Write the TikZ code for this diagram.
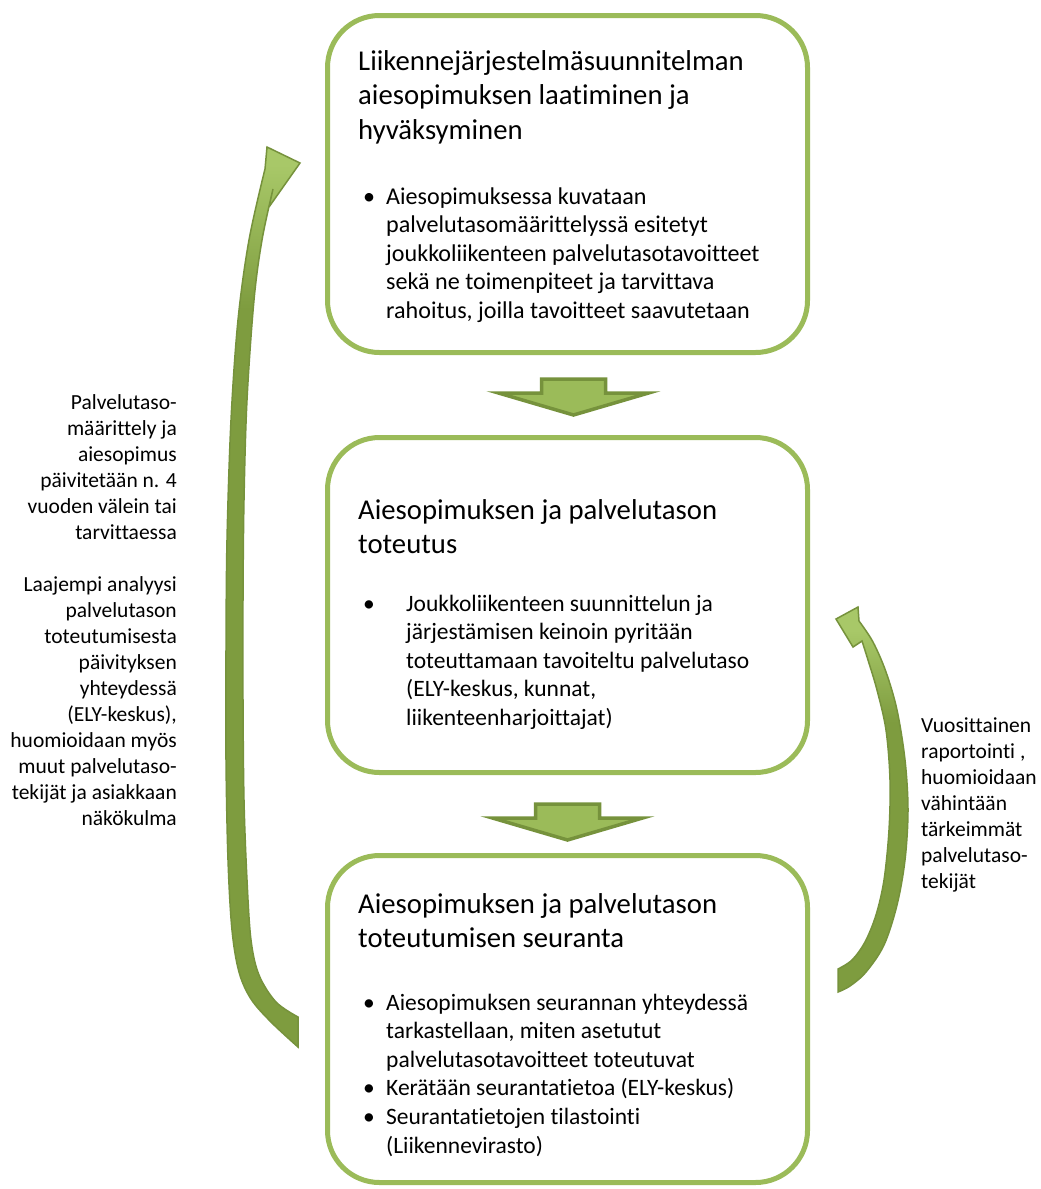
\documentclass[tikz,border=0pt]{standalone}
\usepackage{fontspec}
\setmainfont{Carlito}[Ligatures=NoCommon]
\usetikzlibrary{calc}
\definecolor{boxgreen}{HTML}{9BBB59}
\definecolor{darkgreen}{HTML}{76923C}
\definecolor{olivegreen}{HTML}{7E9C3F}
\definecolor{lightgreen}{HTML}{A8C868}
\pgfdeclareverticalshading{leftshade}{100bp}{color(0bp)=(olivegreen); color(25bp)=(olivegreen); color(66bp)=(olivegreen); color(74bp)=(lightgreen); color(100bp)=(lightgreen)}
\pgfdeclareverticalshading{rightshade}{100bp}{color(0bp)=(olivegreen); color(25bp)=(olivegreen); color(60bp)=(olivegreen); color(72bp)=(lightgreen); color(100bp)=(lightgreen)}
\newcommand\ttlfont{\fontsize{28.7}{34.5}\selectfont}
\newcommand\bdyfont{\fontsize{23.5}{28.6}\selectfont}
\newcommand\bdyfontb{\fontsize{24.1}{28.6}\selectfont}
\newcommand\sidefont{\fontsize{21.5}{26}\selectfont}
\newcommand\bul{\makebox[23pt][l]{•}}
\newcommand\bulw{\makebox[43pt][l]{•}}
\tikzset{
  box/.style={draw=boxgreen, line width=5pt, rounded corners=52pt, minimum width=480pt, inner sep=0pt},
  txt/.style={inner sep=0pt, anchor=base west},
  blockarrow/.style={draw=darkgreen, fill=boxgreen, line width=3.5pt, line join=miter},
  curvarrow/.style={draw=darkgreen, line width=1.5pt, line join=miter}
}
\begin{document}
\begin{tikzpicture}[x=1pt, y=-1pt]
\useasboundingbox[fill=white] (0,0) rectangle (1041,1189);

% boxes
\node[box, minimum height=337pt] (b1) at (567.5,184) {};
\node[box, minimum height=335pt] (b2) at (567.5,605) {};
\node[box, minimum height=327pt] (b3) at (567.5,1019) {};

% box 1 text
\node[txt, font=\ttlfont] (t1) at (358,70) {\begin{tabular}[t]{@{}l@{}}Liikennejärjestelmäsuunnitelman\\aiesopimuksen laatiminen ja\\hyväksyminen\end{tabular}};
\node[txt, font=\bdyfontb] (p1) at (363,204) {\begin{tabular}[t]{@{}l@{}}\bul Aiesopimuksessa kuvataan\\\hspace*{23pt}palvelutasomäärittelyssä esitetyt\\\hspace*{23pt}joukkoliikenteen palvelutasotavoitteet\\\hspace*{23pt}sekä ne toimenpiteet ja tarvittava\\\hspace*{23pt}rahoitus, joilla tavoitteet saavutetaan\end{tabular}};

% box 2 text
\node[txt, font=\ttlfont] (t2) at (358,519) {\begin{tabular}[t]{@{}l@{}}Aiesopimuksen ja palvelutason\\toteutus\end{tabular}};
\node[txt, font=\bdyfont] (p2) at (363,611) {\begin{tabular}[t]{@{}l@{}}\bulw Joukkoliikenteen suunnittelun ja\\\hspace*{43pt}järjestämisen keinoin pyritään\\\hspace*{43pt}toteuttamaan tavoiteltu palvelutaso\\\hspace*{43pt}(ELY-keskus, kunnat,\\\hspace*{43pt}liikenteenharjoittajat)\end{tabular}};

% box 3 text
\node[txt, font=\ttlfont] (t3) at (358,913) {\begin{tabular}[t]{@{}l@{}}Aiesopimuksen ja palvelutason\\toteutumisen seuranta\end{tabular}};
\node[txt, font=\bdyfont] (p3) at (363,1010) {\begin{tabular}[t]{@{}l@{}}\bul Aiesopimuksen seurannan yhteydessä\\\hspace*{23pt}tarkastellaan, miten asetutut\\\hspace*{23pt}palvelutasotavoitteet toteutuvat\\\bul Kerätään seurantatietoa (ELY-keskus)\\\bul Seurantatietojen tilastointi\\\hspace*{23pt}(Liikennevirasto)\end{tabular}};

% side texts
\node[inner sep=0pt, anchor=base east, font=\sidefont] (left) at (177,409) {\begin{tabular}[t]{@{}r@{}}Palvelutaso-\\määrittely ja\\aiesopimus\\päivitetään n. 4\\vuoden välein tai\\tarvittaessa\\ \\Laajempi analyysi\\palvelutason\\toteutumisesta\\päivityksen\\yhteydessä\\(ELY-keskus),\\huomioidaan myös\\muut palvelutaso-\\tekijät ja asiakkaan\\näkökulma\end{tabular}};
\node[txt, font=\sidefont] (right) at (921,732) {\begin{tabular}[t]{@{}l@{}}Vuosittainen\\raportointi ,\\huomioidaan\\vähintään\\tärkeimmät\\palvelutaso-\\tekijät\end{tabular}};

% down block arrows
\coordinate (d1) at ($(b1.south)+(6,24)$);
\coordinate (d2) at ($(b2.south)+(0,29)$);
\foreach \c in {d1,d2}{
  \draw[blockarrow] (\c) ++(-32,0) -- ++(64,0) -- ++(0,14) -- ++(43,0) -- ++(-75,22) -- ++(-75,-22) -- ++(43,0) -- cycle;
}

% left curved arrow (up, towards box 1)
\draw[curvarrow, shading=leftshade] (300,163) -- (269,207) -- (273,189)
  -- plot[smooth, tension=0.55] coordinates {(273,189) (262,240) (254,300) (247,400) (244,500) (243,600) (243,700) (244,800) (247,880) (251,940) (259,975) (276,1002) (298,1017)}
  -- (298,1047)
  -- plot[smooth, tension=0.55] coordinates {(298,1047) (271,1022) (251,999) (239,972) (232,930) (228,860) (226,760) (226,650) (227,540) (231,420) (238,320) (249,240) (265,169)}
  -- (267,147) -- cycle;

% right curved arrow (up, towards box 2)
\draw[curvarrow, shading=rightshade] (836,619) -- (858,607) -- (859,621)
  -- plot[smooth, tension=0.55] coordinates {(859,621) (873,642) (886,672) (897,710) (905,760) (908,810) (905,860) (897,905) (884,945) (866,972) (850,986) (838,992)}
  -- (838,969)
  -- plot[smooth, tension=0.55] coordinates {(838,969) (852,960) (865,942) (876,915) (884,880) (889,830) (890,780) (886,730) (877,690) (868,660) (862,641)}
  -- (853,647) -- cycle;
\end{tikzpicture}
\end{document}
